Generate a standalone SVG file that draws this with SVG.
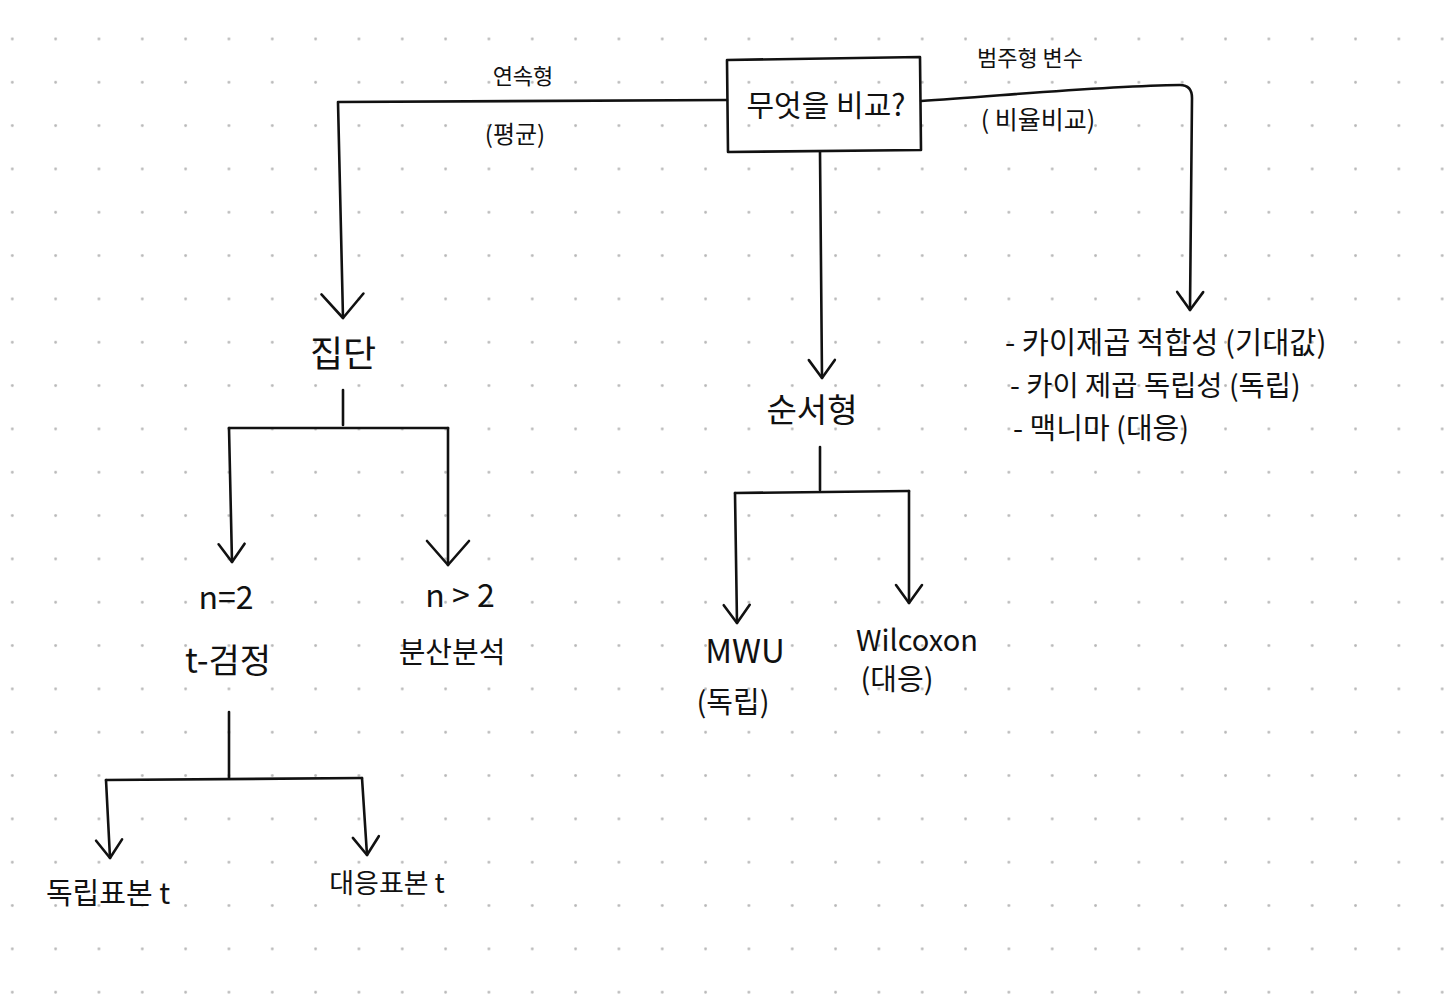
<svg xmlns="http://www.w3.org/2000/svg" width="1450" height="999" viewBox="0 0 1450 999">
<style>
.t{font-family:"Noto Sans CJK KR","Noto Sans",sans-serif;fill:#111;text-anchor:middle}
.l{text-anchor:start}
.c{fill:none;stroke:#111;stroke-width:2.6;stroke-linecap:round;stroke-linejoin:round}
</style>
<defs>
<pattern id="dots" patternUnits="userSpaceOnUse" x="12.3" y="39" width="43.33" height="43.33">
<circle cx="1.5" cy="1.5" r="1.4" fill="#b8b8b8"/>
</pattern>
<marker id="v" markerUnits="userSpaceOnUse" viewBox="-22 -16 26 32" refX="0" refY="0" markerWidth="26" markerHeight="32" orient="auto">
<path d="M-18,-13 L0,0 L-18,13" fill="none" stroke="#111" stroke-width="2.6" stroke-linecap="round" stroke-linejoin="round"/>
</marker>
<marker id="vb" markerUnits="userSpaceOnUse" viewBox="-28 -24 32 48" refX="0" refY="0" markerWidth="32" markerHeight="48" orient="auto">
<path d="M-24,-21 L0,0 L-24,21" fill="none" stroke="#111" stroke-width="2.6" stroke-linecap="round" stroke-linejoin="round"/>
</marker>
</defs>
<rect x="0" y="0" width="1450" height="999" fill="#ffffff"/>
<rect x="0" y="0" width="1450" height="999" fill="url(#dots)" transform="translate(-1.5,-1.5)"/>

<g id="connectors">
<path class="c" d="M727,100 L338,102 L343,318" marker-end="url(#vb)"/>
<path class="c" d="M921,101 C1000,96 1100,86 1180,85 Q1192,85 1192,98 L1190,310" marker-end="url(#v)"/>
<path class="c" d="M820,152 L822,378" marker-end="url(#v)"/>
<path class="c" d="M343,390 L343,425"/>
<path class="c" d="M229,428 L448,428"/>
<path class="c" d="M229,428 L232,562" marker-end="url(#v)"/>
<path class="c" d="M448,428 L448,565" marker-end="url(#vb)"/>
<path class="c" d="M229,712 L229,778"/>
<path class="c" d="M106,780 L362,778"/>
<path class="c" d="M106,780 L110,858" marker-end="url(#v)"/>
<path class="c" d="M362,778 L367,855" marker-end="url(#v)"/>
<path class="c" d="M820,447 L820,490"/>
<path class="c" d="M735,493 L909,491"/>
<path class="c" d="M735,493 L737,623" marker-end="url(#v)"/>
<path class="c" d="M909,491 L909,603" marker-end="url(#v)"/>
</g>

<g id="edge-labels">
<text class="t" x="523" y="84" font-size="22">연속형</text>
<text class="t" x="515" y="143" font-size="24">(평균)</text>
<text class="t" x="1030" y="66" font-size="22">범주형 변수</text>
<text class="t" x="1038" y="129" font-size="25">( 비율비교)</text>
</g>

<g id="node-root">
<path class="c" d="M727,60 L920,57 L921,150 L728,152 Z"/>
<text class="t" x="826" y="116" font-size="30">무엇을 비교?</text>
</g>

<g id="node-group">
<text class="t" x="343" y="367" font-size="36">집단</text>
</g>

<g id="node-ordinal">
<text class="t" x="812" y="422" font-size="33">순서형</text>
</g>

<g id="node-categorical">
<text class="t l" x="1005" y="353" font-size="29.5">- 카이제곱 적합성 (기대값)</text>
<text class="t l" x="1010" y="396" font-size="28.5">- 카이 제곱 독립성 (독립)</text>
<text class="t l" x="1013" y="439" font-size="29">- 맥니마 (대응)</text>
</g>

<g id="node-n2">
<text class="t" x="226" y="609" font-size="32">n=2</text>
<text class="t" x="228" y="673" font-size="34">t-검정</text>
</g>

<g id="node-ngt2">
<text class="t" x="460" y="607" font-size="32">n &gt; 2</text>
<text class="t" x="452" y="663" font-size="29">분산분석</text>
</g>

<g id="node-mwu">
<text class="t" x="745" y="663" font-size="33">MWU</text>
<text class="t" x="733" y="713" font-size="29">(독립)</text>
</g>

<g id="node-wilcoxon">
<text class="t" x="917" y="651" font-size="29">Wilcoxon</text>
<text class="t" x="897" y="690" font-size="29">(대응)</text>
</g>

<g id="node-indep">
<text class="t" x="108" y="904" font-size="29">독립표본 t</text>
</g>

<g id="node-paired">
<text class="t" x="387" y="893" font-size="27">대응표본 t</text>
</g>
</svg>
